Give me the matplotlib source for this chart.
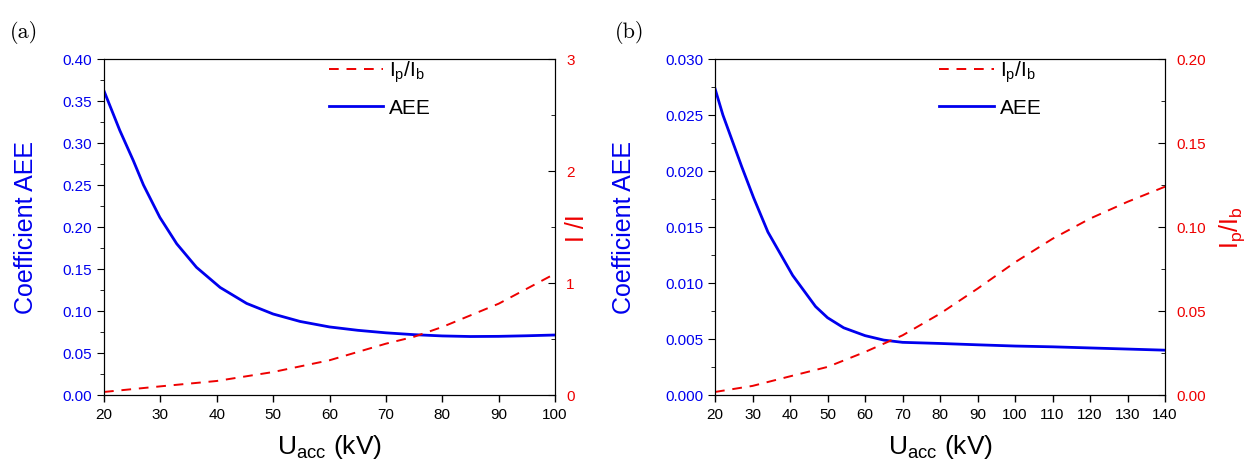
import matplotlib
matplotlib.use("Agg")
import matplotlib.pyplot as plt
from matplotlib.ticker import MultipleLocator

plt.rcParams["font.family"] = ["Liberation Sans", "DejaVu Sans"]
plt.rcParams["mathtext.default"] = "regular"

# panel (a)
u_a = [20, 22.8, 25.2, 27, 29.9, 32.9, 36.4, 40.6, 45.3, 50, 54.8, 60, 65, 70,
       75, 80, 85, 90, 95, 100]
aee_a = [0.362, 0.315, 0.279, 0.250, 0.2115, 0.180, 0.152, 0.128, 0.109, 0.0964,
         0.0875, 0.081, 0.077, 0.074, 0.0718, 0.0703, 0.0696, 0.0698, 0.0705, 0.0714]
ratio_u_a = [20, 30, 40, 50, 60, 70, 75, 80, 90, 100]
ratio_a = [0.027, 0.077, 0.125, 0.205, 0.31, 0.458, 0.52, 0.607, 0.815, 1.083]

# panel (b)
u_b = [20, 22.1, 27.1, 30.3, 34.1, 40.7, 46.8, 50, 54.3, 60, 65, 70, 80, 90,
       100, 110, 120, 130, 140]
aee_b = [0.02735, 0.0250, 0.0204, 0.0176, 0.01455, 0.01068, 0.0079, 0.0069,
         0.0060, 0.0053, 0.0049, 0.0047, 0.0046, 0.00448, 0.00437, 0.0043,
         0.0042, 0.0041, 0.0040]
ratio_u_b = [20, 30, 40, 50, 60, 70, 80, 90, 100, 110, 120, 130, 140]
ratio_b = [0.0018, 0.0054, 0.0111, 0.0167, 0.0256, 0.0355, 0.0484, 0.0633,
           0.079, 0.093, 0.105, 0.115, 0.124]

RATIO_LABEL = "I$_p$/I$_b$"


def draw_panel(ax, u, aee, ru, ratio, xlim, xstep, ylim, ystep, yfmt,
               rlim, rstep, rminor, rfmt, rlabel, ylab_x, rlab_x, legend_x, legend_y):
    ax2 = ax.twinx()
    ax.plot(u, aee, color="#0000ee", lw=2.0, label="AEE", zorder=3)
    ax2.plot(ru, ratio, color="#ee0000", lw=1.4, ls=(0, (5, 4)), label=RATIO_LABEL)

    ax.set_xlim(*xlim)
    ax.set_ylim(*ylim)
    ax2.set_ylim(*rlim)
    ax.xaxis.set_major_locator(MultipleLocator(xstep))
    ax.yaxis.set_major_locator(MultipleLocator(ystep))
    ax.yaxis.set_minor_locator(MultipleLocator(ystep / 2))
    ax2.yaxis.set_major_locator(MultipleLocator(rstep))
    ax2.yaxis.set_minor_locator(MultipleLocator(rminor))
    ax.yaxis.set_major_formatter(yfmt)
    ax2.yaxis.set_major_formatter(rfmt)

    ax.tick_params(axis="x", direction="out", length=5, width=1, labelsize=11,
                   colors="black", top=False)
    ax.tick_params(axis="y", which="both", direction="out", labelsize=11,
                   labelcolor="#0000ee", right=False)
    ax.tick_params(axis="y", which="major", length=5)
    ax.tick_params(axis="y", which="minor", length=3)
    ax2.tick_params(axis="y", which="both", direction="in", labelsize=11,
                    labelcolor="#ee0000", pad=8)
    ax2.tick_params(axis="y", which="major", length=5)
    ax2.tick_params(axis="y", which="minor", length=3)

    ax.set_xlabel("U$_{acc}$ (kV)", fontsize=19, labelpad=8)
    ax.set_ylabel("Coefficient AEE", fontsize=18, color="#0000ee")
    ax.yaxis.set_label_coords(ylab_x, 0.5)
    ax2.set_ylabel(rlabel, fontsize=18, color="#ee0000")
    ax2.yaxis.set_label_coords(rlab_x, 0.5)

    h1, l1 = ax2.get_legend_handles_labels()
    h2, l2 = ax.get_legend_handles_labels()
    ax.legend(h1 + h2, l1 + l2, loc="upper left", bbox_to_anchor=(legend_x, legend_y),
              frameon=False, fontsize=15, handlelength=2.6, handletextpad=0.3,
              labelspacing=0.65, borderaxespad=0)
    return ax2


fig = plt.figure(figsize=(12.47, 4.64), dpi=100)
ax_a = fig.add_axes([0.0834, 0.1466, 0.3617, 0.7241])
ax_b = fig.add_axes([0.5734, 0.1466, 0.3609, 0.7241])

draw_panel(ax_a, u_a, aee_a, ratio_u_a, ratio_a, (20, 100), 10, (0, 0.40), 0.05,
           "{x:.2f}", (0, 3), 1, 0.5, "{x:.0f}", "I /I", -0.146, 1.022, 0.48, 1.025)
draw_panel(ax_b, u_b, aee_b, ratio_u_b, ratio_b, (20, 140), 10, (0, 0.030), 0.005,
           "{x:.3f}", (0, 0.20), 0.05, 0.025, "{x:.2f}", RATIO_LABEL, -0.176, 1.116,
           0.48, 1.025)

fig.text(0.008, 0.955, "(a)", family=["cmr10", "DejaVu Serif"], fontsize=16, va="top")
fig.text(0.493, 0.955, "(b)", family=["cmr10", "DejaVu Serif"], fontsize=16, va="top")

fig.savefig("out.png", dpi=100)
plt.close(fig)
